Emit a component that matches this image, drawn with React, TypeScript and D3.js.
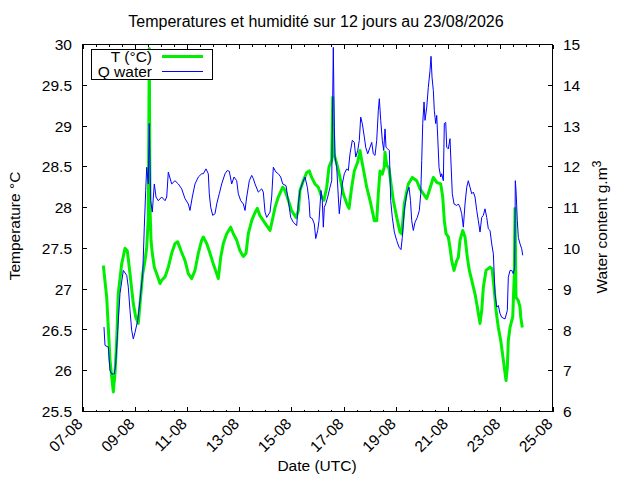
import { useEffect, useRef } from 'react';
import * as d3 from 'd3';

// [day of August (fractional, UTC), value]
const tempSeries: [number, number][] = [
    [7.797, 27.29], [7.927, 26.9], [7.988, 26.53], [8.053, 26.13], [8.18, 25.74], [8.245, 25.97],
    [8.31, 26.37], [8.371, 26.95], [8.501, 27.31], [8.628, 27.5], [8.716, 27.47], [8.819, 27.19],
    [8.946, 26.82], [9.038, 26.66], [9.137, 26.58], [9.202, 26.82], [9.306, 27.19], [9.394, 27.35],
    [9.459, 27.51], [9.52, 27.88], [9.558, 29.95], [9.585, 28.0], [9.624, 27.6], [9.673, 27.44],
    [9.75, 27.27], [9.842, 27.19], [9.968, 27.07], [10.033, 27.11], [10.16, 27.15], [10.286, 27.27],
    [10.416, 27.44], [10.543, 27.56], [10.646, 27.58], [10.773, 27.47], [10.926, 27.35], [11.052, 27.19],
    [11.182, 27.13], [11.309, 27.23], [11.435, 27.44], [11.565, 27.6], [11.627, 27.64], [11.757, 27.56],
    [11.883, 27.44], [12.01, 27.31], [12.14, 27.19], [12.201, 27.13], [12.293, 27.39], [12.393, 27.56],
    [12.523, 27.68], [12.676, 27.76], [12.776, 27.68], [12.906, 27.6], [13.032, 27.47], [13.159, 27.4],
    [13.262, 27.44], [13.35, 27.68], [13.48, 27.84], [13.607, 27.94], [13.695, 27.99], [13.798, 27.9],
    [13.925, 27.84], [14.055, 27.78], [14.181, 27.72], [14.246, 27.81], [14.373, 28.0], [14.499, 28.13],
    [14.668, 28.25], [14.756, 28.21], [14.882, 28.09], [15.012, 27.96], [15.177, 27.88], [15.265, 27.96],
    [15.33, 28.21], [15.457, 28.33], [15.587, 28.43], [15.686, 28.45], [15.778, 28.37], [15.905, 28.29],
    [16.031, 28.25], [16.161, 28.13], [16.249, 28.09], [16.353, 28.25], [16.441, 28.5], [16.544, 28.58],
    [16.583, 29.35], [16.632, 28.66], [16.736, 28.54], [16.862, 28.37], [16.989, 28.17], [17.119, 28.05],
    [17.207, 27.99], [17.31, 28.25], [17.41, 28.45], [17.54, 28.56], [17.628, 28.7], [17.693, 28.58],
    [17.793, 28.41], [17.885, 28.25], [18.011, 28.09], [18.099, 27.96], [18.176, 27.84], [18.268, 27.84],
    [18.329, 28.17], [18.394, 28.45], [18.482, 28.41], [18.559, 28.5], [18.586, 28.68], [18.651, 28.52],
    [18.739, 28.48], [18.816, 28.29], [18.904, 28.09], [19.034, 27.88], [19.16, 27.7], [19.225, 27.68],
    [19.325, 28.05], [19.478, 28.29], [19.631, 28.37], [19.8, 28.33], [19.926, 28.23], [20.053, 28.17],
    [20.183, 28.11], [20.282, 28.21], [20.436, 28.37], [20.566, 28.31], [20.719, 28.29], [20.796, 28.13],
    [20.857, 27.84], [20.922, 27.68], [21.01, 27.64], [21.075, 27.51], [21.14, 27.35], [21.229, 27.23],
    [21.332, 27.35], [21.393, 27.39], [21.458, 27.6], [21.562, 27.72], [21.65, 27.64], [21.738, 27.39],
    [21.815, 27.23], [21.906, 27.11], [22.033, 26.94], [22.121, 26.78], [22.224, 26.58], [22.289, 26.74],
    [22.351, 27.02], [22.454, 27.23], [22.607, 27.27], [22.684, 27.25], [22.761, 27.02], [22.837, 26.74],
    [22.925, 26.53], [23.017, 26.37], [23.117, 26.13], [23.22, 25.88], [23.27, 26.04], [23.308, 26.37],
    [23.373, 26.53], [23.477, 26.66], [23.538, 27.19], [23.565, 27.99], [23.603, 26.9], [23.691, 26.86],
    [23.756, 26.78], [23.783, 26.66], [23.844, 26.53],
];

const waterSeries: [number, number][] = [
    [7.823, 8.07], [7.862, 7.62], [7.988, 7.58], [8.053, 7.01], [8.118, 6.92], [8.218, 6.92],
    [8.272, 7.17], [8.348, 7.99], [8.436, 8.89], [8.563, 9.46], [8.693, 9.34], [8.754, 9.05],
    [8.819, 8.48], [8.884, 7.99], [8.946, 7.78], [9.011, 7.94], [9.114, 8.23], [9.202, 8.72],
    [9.306, 9.38], [9.367, 10.52], [9.421, 11.42], [9.459, 11.99], [9.52, 11.58], [9.558, 13.06],
    [9.612, 11.17], [9.673, 10.89], [9.75, 11.58], [9.815, 11.26], [9.903, 11.17], [10.033, 11.26],
    [10.16, 11.17], [10.225, 11.26], [10.286, 11.87], [10.416, 11.58], [10.543, 11.66], [10.669, 11.58],
    [10.799, 11.46], [10.926, 11.22], [11.052, 11.09], [11.117, 10.93], [11.205, 11.26], [11.309, 11.58],
    [11.435, 11.75], [11.565, 11.83], [11.627, 11.83], [11.73, 11.95], [11.818, 11.83], [11.856, 11.34],
    [11.91, 11.01], [11.987, 10.81], [12.075, 10.85], [12.14, 11.09], [12.239, 11.34], [12.331, 11.58],
    [12.458, 11.83], [12.546, 11.91], [12.622, 11.89], [12.714, 11.58], [12.803, 11.75], [12.906, 11.66],
    [12.967, 11.34], [13.059, 11.17], [13.159, 11.09], [13.224, 10.93], [13.289, 11.26], [13.389, 11.66],
    [13.48, 11.79], [13.542, 11.71], [13.607, 11.58], [13.733, 11.38], [13.863, 11.46], [13.925, 11.38],
    [13.99, 10.89], [14.055, 10.76], [14.181, 10.89], [14.246, 11.26], [14.308, 11.99], [14.411, 11.87],
    [14.499, 11.83], [14.591, 11.75], [14.668, 11.58], [14.794, 11.54], [14.882, 11.17], [14.974, 10.76],
    [15.074, 10.64], [15.204, 10.56], [15.265, 11.09], [15.33, 11.42], [15.434, 11.62], [15.522, 11.75],
    [15.61, 11.5], [15.675, 11.17], [15.713, 10.76], [15.801, 10.73], [15.878, 10.6], [15.932, 10.24],
    [16.008, 10.44], [16.058, 10.68], [16.135, 11.42], [16.184, 11.17], [16.223, 10.52], [16.261, 11.01],
    [16.315, 11.09], [16.391, 11.26], [16.479, 11.5], [16.544, 11.66], [16.605, 14.93], [16.644, 12.97],
    [16.671, 12.24], [16.736, 11.99], [16.797, 11.26], [16.835, 10.85], [16.901, 11.26], [16.95, 11.58],
    [17.027, 11.83], [17.119, 11.95], [17.18, 11.91], [17.245, 12.32], [17.333, 12.65], [17.41, 12.6],
    [17.464, 12.24], [17.54, 12.4], [17.601, 12.65], [17.655, 13.22], [17.716, 13.06], [17.793, 12.73],
    [17.847, 12.48], [17.923, 12.32], [18.011, 12.48], [18.076, 12.6], [18.138, 12.32], [18.203, 12.28],
    [18.268, 12.65], [18.329, 13.38], [18.368, 13.67], [18.421, 13.14], [18.482, 12.65], [18.536, 12.4],
    [18.586, 12.93], [18.624, 12.48], [18.689, 12.44], [18.751, 12.4], [18.804, 11.17], [18.865, 10.76],
    [18.942, 10.4], [19.034, 10.19], [19.122, 10.03], [19.198, 9.97], [19.248, 10.27], [19.325, 10.93],
    [19.417, 11.34], [19.505, 11.5], [19.562, 11.17], [19.608, 10.68], [19.67, 10.44], [19.735, 10.64],
    [19.823, 10.76], [19.9, 10.93], [19.954, 11.34], [19.992, 12.16], [20.03, 13.06], [20.08, 13.59],
    [20.118, 13.14], [20.183, 13.46], [20.244, 13.95], [20.309, 14.36], [20.348, 14.71], [20.386, 14.2],
    [20.436, 13.87], [20.474, 13.38], [20.528, 13.06], [20.566, 13.26], [20.604, 12.73], [20.654, 11.99],
    [20.719, 11.75], [20.757, 11.83], [20.819, 11.66], [20.857, 13.06], [20.911, 13.09], [20.949, 12.48],
    [21.01, 12.44], [21.075, 12.69], [21.114, 12.07], [21.163, 11.34], [21.229, 11.09], [21.332, 11.05],
    [21.393, 11.09], [21.458, 11.01], [21.523, 10.85], [21.585, 10.52], [21.65, 11.09], [21.715, 11.5],
    [21.776, 11.66], [21.841, 11.5], [21.906, 11.34], [21.968, 11.38], [22.033, 11.26], [22.098, 10.93],
    [22.159, 10.68], [22.224, 10.4], [22.289, 10.76], [22.351, 10.81], [22.416, 10.97], [22.481, 10.76],
    [22.542, 10.48], [22.607, 10.44], [22.672, 10.11], [22.734, 9.87], [22.799, 8.89], [22.864, 8.56],
    [22.925, 8.6], [22.99, 8.4], [23.055, 8.31], [23.182, 8.27], [23.27, 8.48], [23.308, 9.29],
    [23.373, 9.46], [23.438, 9.46], [23.5, 9.38], [23.553, 9.54], [23.576, 11.66], [23.603, 11.42],
    [23.653, 10.68], [23.691, 10.27], [23.756, 10.11], [23.821, 9.99], [23.859, 9.83],
];

const tempTicks = [25.5, 26, 26.5, 27, 27.5, 28, 28.5, 29, 29.5, 30];
const waterTicks = [6, 7, 8, 9, 10, 11, 12, 13, 14, 15];
const dateTickDays = [7, 9, 11, 13, 15, 17, 19, 21, 23, 25];

const title = 'Temperatures et humidité sur 12 jours au 23/08/2026';
const font = '"Liberation Sans", Arial, Helvetica, sans-serif';
const tempColor = '#00ee00';
const waterColor = '#0000ff';

const plot = { left: 82.5, right: 552.5, top: 44.5, bottom: 411.5 };

const toDate = (day: number) => new Date(Date.UTC(2026, 7, 1) + (day - 1) * 864e5);

const App = () => {
    const svgRef = useRef<SVGSVGElement>(null);

    useEffect(() => {
        const svg = d3.select(svgRef.current);
        svg.selectAll('*').remove();

        const x = d3
            .scaleUtc()
            .domain([toDate(dateTickDays[0]), toDate(dateTickDays[dateTickDays.length - 1])])
            .range([plot.left, plot.right]);
        const yT = d3.scaleLinear().domain([25.5, 30]).range([plot.bottom, plot.top]);
        const yQ = d3.scaleLinear().domain([6, 15]).range([plot.bottom, plot.top]);

        svg.append('rect').attr('width', 640).attr('height', 480).attr('fill', '#fff');

        svg.append('defs')
            .append('clipPath')
            .attr('id', 'plot-clip')
            .append('rect')
            .attr('x', plot.left)
            .attr('y', plot.top)
            .attr('width', plot.right - plot.left)
            .attr('height', plot.bottom - plot.top);

        // title
        svg.append('text')
            .attr('x', 316)
            .attr('y', 27)
            .attr('text-anchor', 'middle')
            .style('font-family', font)
            .style('font-size', '16px')
            .text(title);

        // series, water content drawn over temperature
        const lineT = d3
            .line<[number, number]>()
            .x(d => x(toDate(d[0])))
            .y(d => yT(d[1]));
        const lineQ = d3
            .line<[number, number]>()
            .x(d => x(toDate(d[0])))
            .y(d => yQ(d[1]));

        const series = svg.append('g').attr('clip-path', 'url(#plot-clip)');
        series.append('path')
            .datum(tempSeries)
            .attr('d', lineT)
            .attr('fill', 'none')
            .attr('stroke', tempColor)
            .attr('stroke-width', 3)
            .attr('stroke-linejoin', 'round');
        series.append('path')
            .datum(waterSeries)
            .attr('d', lineQ)
            .attr('fill', 'none')
            .attr('stroke', waterColor)
            .attr('stroke-width', 1);

        // frame and ticks
        const axes = svg.append('g').attr('stroke', '#000').attr('shape-rendering', 'crispEdges');
        axes.append('rect')
            .attr('x', plot.left)
            .attr('y', plot.top)
            .attr('width', plot.right - plot.left)
            .attr('height', plot.bottom - plot.top)
            .attr('fill', 'none');

        const majorDates = dateTickDays.map(toDate);
        const minorDates = d3.utcHour.every(12)!.range(x.domain()[0], x.domain()[1]);
        const tickLen = (d: Date) => (majorDates.some(m => +m === +d) ? 4.5 : 2);
        [...minorDates, ...majorDates].forEach(d => {
            const px = Math.round(x(d)) + 0.5;
            axes.append('line').attr('x1', px).attr('x2', px)
                .attr('y1', plot.bottom).attr('y2', plot.bottom - tickLen(d));
            axes.append('line').attr('x1', px).attr('x2', px)
                .attr('y1', plot.top).attr('y2', plot.top + tickLen(d));
        });
        tempTicks.forEach(v => {
            axes.append('line').attr('x1', plot.left).attr('x2', plot.left + 4.5)
                .attr('y1', yT(v)).attr('y2', yT(v));
        });
        waterTicks.forEach(v => {
            axes.append('line').attr('x1', plot.right).attr('x2', plot.right - 4.5)
                .attr('y1', yQ(v)).attr('y2', yQ(v));
        });

        const labels = svg.append('g').style('font-family', font).style('font-size', '15.5px').attr('fill', '#000');
        tempTicks.forEach(v => {
            labels.append('text')
                .attr('x', 72)
                .attr('y', yT(v))
                .attr('dy', '0.36em')
                .attr('text-anchor', 'end')
                .text(String(v));
        });
        waterTicks.forEach(v => {
            labels.append('text')
                .attr('x', 563)
                .attr('y', yQ(v))
                .attr('dy', '0.36em')
                .attr('text-anchor', 'start')
                .text(String(v));
        });
        const fmt = d3.utcFormat('%d-%m');
        majorDates.forEach(d => {
            const px = x(d) + 1;
            labels.append('text')
                .attr('text-anchor', 'end')
                .attr('transform', `translate(${px},425) rotate(-45)`)
                .text(fmt(d));
        });

        // axis titles
        labels.append('text')
            .attr('x', 317)
            .attr('y', 471)
            .attr('text-anchor', 'middle')
            .text('Date (UTC)');
        labels.append('text')
            .attr('transform', 'translate(20,226) rotate(-90)')
            .attr('text-anchor', 'middle')
            .text('Temperature °C');
        const q = labels.append('text')
            .attr('transform', 'translate(607,227) rotate(-90)')
            .attr('text-anchor', 'middle');
        q.append('tspan').text('Water content g.m');
        q.append('tspan').attr('dy', -6).style('font-size', '12.5px').text('3');

        // legend
        const legend = svg.append('g');
        legend.append('rect')
            .attr('x', 91.5)
            .attr('y', 49.5)
            .attr('width', 121)
            .attr('height', 30)
            .attr('fill', '#fff')
            .attr('stroke', '#000')
            .attr('shape-rendering', 'crispEdges');
        const entries = [
            { label: 'T (°C)', color: tempColor, width: 3, y: 56.5 },
            { label: 'Q water', color: waterColor, width: 1, y: 71.5 },
        ];
        entries.forEach(e => {
            legend.append('text')
                .attr('x', 152)
                .attr('y', e.y)
                .attr('dy', '0.33em')
                .attr('text-anchor', 'end')
                .style('font-family', font)
                .style('font-size', '15.5px')
                .text(e.label);
            legend.append('line')
                .attr('x1', 162)
                .attr('x2', 203)
                .attr('y1', e.y)
                .attr('y2', e.y)
                .attr('stroke', e.color)
                .attr('stroke-width', e.width);
        });
    }, []);

    return (
        <svg
            ref={svgRef}
            width={640}
            height={480}
            style={{ position: 'absolute', left: 0, top: 0 }}
        ></svg>
    );
};

export default App;
